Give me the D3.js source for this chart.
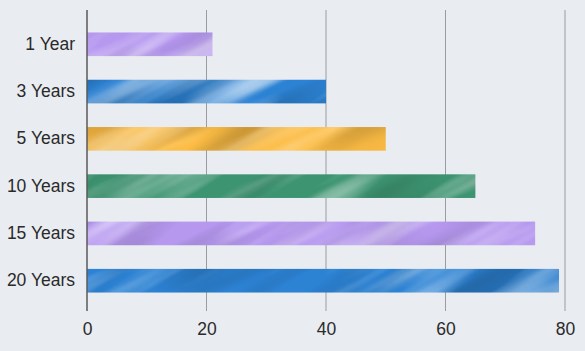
<!DOCTYPE html>
<html><head><meta charset="utf-8">
<script src="https://cdn.jsdelivr.net/npm/d3@7"></script>
<style>html,body{margin:0;padding:0;background:#e9ecf1;}svg{display:block;}</style>
</head><body>
<script>
const categories = ["1 Year","3 Years","5 Years","10 Years","15 Years","20 Years"];
const values = [21, 40, 50, 65, 75, 79];
const colors = ["#b698ef","#2c82d3","#fcbc44","#3d9471","#b698ef","#2c82d3"];
const xTicks = [0,20,40,60,80];

const W=585,H=351, m={l:87,r:20,t:10,b:40};
const svg=d3.select("body").append("svg").attr("width",W).attr("height",H);
svg.append("rect").attr("width",W).attr("height",H).attr("fill","#e9ecf1");
const x=d3.scaleLinear().domain([0,80]).range([m.l,W-m.r]);
const y=d3.scaleBand().domain(categories).range([10,315]).paddingInner(0.5).paddingOuter(0.475);
const yAxisBottom=H-m.b;
const font="'Liberation Sans', Arial, sans-serif";

const defs=svg.append("defs");
const f=defs.append("filter").attr("id","streak").attr("x",0).attr("y",0).attr("width",1).attr("height",1);
f.append("feTurbulence").attr("type","fractalNoise").attr("baseFrequency","0.004 0.035").attr("numOctaves",3).attr("seed",4).attr("stitchTiles","stitch").attr("result","n");
f.append("feColorMatrix").attr("in","n").attr("type","matrix")
 .attr("values","0 0 0 0 1  0 0 0 0 1  0 0 0 0 1  1.3 0 0 0 -0.6").attr("result","a");
f.append("feComposite").attr("in","a").attr("in2","SourceGraphic").attr("operator","in");
const f2=defs.append("filter").attr("id","dark").attr("x",0).attr("y",0).attr("width",1).attr("height",1);
f2.append("feTurbulence").attr("type","fractalNoise").attr("baseFrequency","0.006 0.03").attr("numOctaves",2).attr("seed",9).attr("stitchTiles","stitch").attr("result","n");
f2.append("feColorMatrix").attr("in","n").attr("type","matrix")
 .attr("values","0 0 0 0 0  0 0 0 0 0  0 0 0 0 0  -0.5 0 0 0 0.28").attr("result","a");
f2.append("feComposite").attr("in","a").attr("in2","SourceGraphic").attr("operator","in");

colors.forEach((c,i)=>{
  const p=defs.append("pattern").attr("id","pat"+i).attr("patternUnits","userSpaceOnUse")
    .attr("width",1400).attr("height",1400).attr("x",-300+i*97).attr("y",-300+i*53)
    .attr("patternTransform","rotate(-28)");
  p.append("rect").attr("width",1400).attr("height",1400).attr("fill",c);
  p.append("rect").attr("width",1400).attr("height",1400).attr("fill","#000").attr("filter","url(#dark)");
  p.append("rect").attr("width",1400).attr("height",1400).attr("fill","#fff").attr("filter","url(#streak)");
});

// gridlines
svg.append("g").selectAll("line").data(xTicks.filter(d=>d>0)).join("line")
  .attr("x1",d=>x(d)).attr("x2",d=>x(d)).attr("y1",10).attr("y2",yAxisBottom)
  .attr("stroke","#9a9ca0").attr("stroke-width",1);

// bars
svg.append("g").selectAll("rect").data(values).join("rect")
  .attr("x",x(0)).attr("y",(d,i)=>y(categories[i]))
  .attr("width",d=>x(d)-x(0)).attr("height",y.bandwidth())
  .attr("fill",(d,i)=>"url(#pat"+i+")");

// left axis
const ya=svg.append("g").attr("transform",`translate(${x(0)},0)`)
  .call(d3.axisLeft(y).tickSize(0).tickPadding(12));
ya.select(".domain").remove();
ya.selectAll("text").attr("font-family",font).attr("font-size",17.5).attr("fill","#2a2a2a");
svg.append("line").attr("x1",x(0)).attr("x2",x(0)).attr("y1",10).attr("y2",yAxisBottom)
  .attr("stroke","#5a5a5a").attr("stroke-width",1.5);

// bottom axis
const xa=svg.append("g").attr("transform",`translate(0,${yAxisBottom})`)
  .call(d3.axisBottom(x).tickValues(xTicks).tickSize(0).tickPadding(12));
xa.select(".domain").remove();
xa.selectAll("text").attr("font-family",font).attr("font-size",17.5).attr("fill","#2a2a2a");
</script>
</body></html>
